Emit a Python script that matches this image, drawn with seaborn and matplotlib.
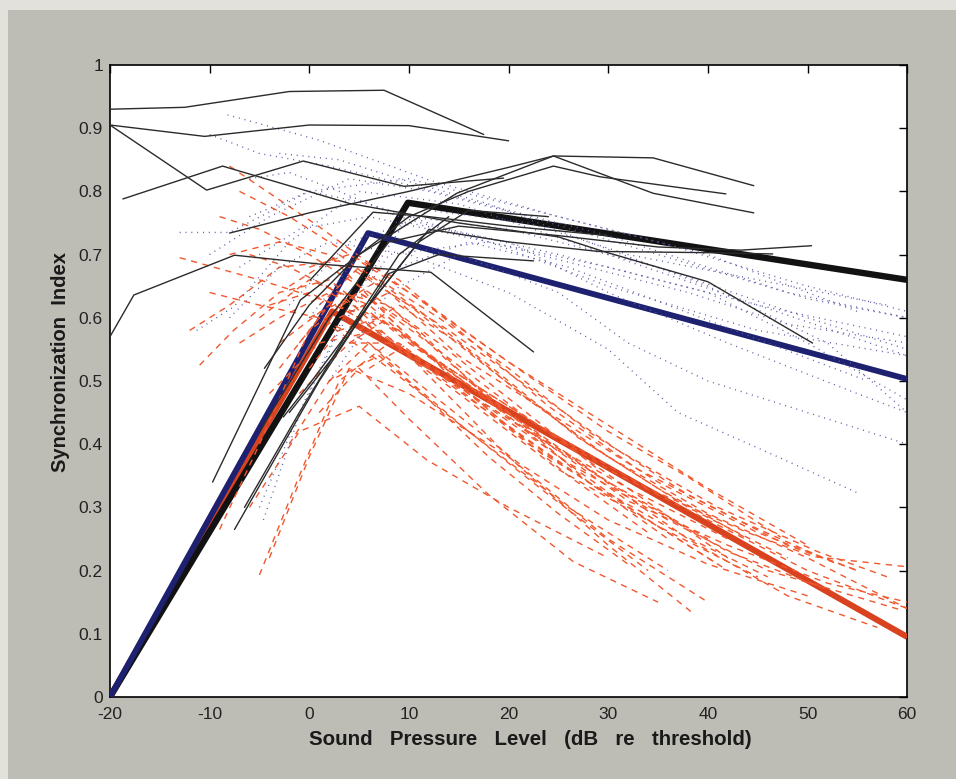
import matplotlib
matplotlib.use("Agg")
import matplotlib.pyplot as plt
from matplotlib.patches import Rectangle
import pandas as pd
import seaborn as sns

# ---- population fits (broken-stick) ----
black_fit_x = [-20, 9.9, 60]
black_fit_y = [0.0, 0.782, 0.660]
blue_fit_x = [-20, 5.9, 60]
blue_fit_y = [0.0, 0.734, 0.503]
red_fit_x = [-20, 2.3, 60]
red_fit_y = [0.0, 0.610, 0.095]

# ---- individual fibres: solid black group ----
blk_01 = ([-20, -12.5, -2, 7.5, 17.5], [0.930, 0.933, 0.958, 0.960, 0.890])
blk_02 = ([-20, -10.5, 0, 10, 20], [0.905, 0.887, 0.905, 0.904, 0.880])
blk_03 = ([-20, -10.3, -0.6, 9.5, 19.5], [0.905, 0.802, 0.848, 0.808, 0.821])
blk_04 = ([-18.7, -8.7, 4, 15, 25, 29.5, 40, 50.5], [0.788, 0.840, 0.781, 0.750, 0.728, 0.705, 0.657, 0.560])
blk_05 = ([-20, -17.6, -7.5, 1, 12.2, 22.5], [0.570, 0.636, 0.699, 0.685, 0.672, 0.546])
blk_06 = ([-8, 0, 10, 20, 24.5, 34.5, 44.6], [0.734, 0.766, 0.800, 0.838, 0.856, 0.853, 0.809])
blk_07 = ([-9.7, -0.9, 5, 14.8, 24.5, 34.5, 44.6], [0.340, 0.628, 0.700, 0.797, 0.856, 0.797, 0.766])
blk_08 = ([-7.5, 1, 6, 12, 20, 29, 40, 46.5], [0.265, 0.500, 0.620, 0.740, 0.720, 0.705, 0.703, 0.701])
blk_09 = ([-5, 2, 8, 15, 25, 35, 43.3, 50.4], [0.420, 0.600, 0.720, 0.745, 0.730, 0.712, 0.707, 0.714])
blk_10 = ([-4.5, 0, 5, 10, 16, 24.5, 29.2, 41.8], [0.520, 0.620, 0.700, 0.760, 0.800, 0.840, 0.823, 0.796])
blk_11 = ([-2, 3, 8, 13, 22.5], [0.450, 0.550, 0.670, 0.700, 0.690])
blk_12 = ([-2.6, 0.1, 5.8, 11, 16, 24], [0.443, 0.497, 0.617, 0.720, 0.770, 0.760])
blk_13 = ([0.1, 6.4, 12, 20, 30], [0.660, 0.767, 0.760, 0.745, 0.730])
blk_14 = ([-6.5, -1, 4, 9, 14], [0.300, 0.450, 0.580, 0.700, 0.760])

# ---- individual fibres: dotted blue group ----
blu_01 = ([-8.2, 1, 12, 25, 40, 55], [0.921, 0.881, 0.818, 0.760, 0.700, 0.610])
blu_02 = ([-13, -8, 0, 10, 20, 35, 50, 60], [0.735, 0.735, 0.800, 0.820, 0.780, 0.720, 0.650, 0.610])
blu_03 = ([-11.3, -7.6, -2, 5, 15, 30, 45, 60], [0.580, 0.617, 0.720, 0.800, 0.780, 0.700, 0.620, 0.570])
blu_04 = ([-5, -1, 4, 10, 20, 35, 50, 60], [0.300, 0.450, 0.620, 0.760, 0.740, 0.680, 0.600, 0.550])
blu_05 = ([-4.6, -0.9, 3, 8, 18, 30, 45, 60], [0.280, 0.450, 0.580, 0.700, 0.720, 0.650, 0.580, 0.540])
blu_06 = ([-8, -3, 2, 10, 20, 30, 37, 47, 55], [0.600, 0.680, 0.720, 0.700, 0.640, 0.550, 0.450, 0.380, 0.323])
blu_07 = ([-6, 0, 6, 14, 25, 40, 50, 60], [0.760, 0.800, 0.780, 0.740, 0.700, 0.640, 0.560, 0.470])
blu_08 = ([-3, 3, 9, 18, 28, 40, 52, 60], [0.860, 0.850, 0.820, 0.780, 0.720, 0.650, 0.560, 0.450])
blu_09 = ([-10, -4, 4, 12, 22, 35, 48, 60], [0.700, 0.760, 0.820, 0.800, 0.760, 0.700, 0.640, 0.600])
blu_10 = ([2, 8, 15, 25, 32, 40, 50, 60], [0.500, 0.640, 0.700, 0.640, 0.560, 0.500, 0.450, 0.400])
blu_11 = ([-2, 4, 10, 20, 30, 42, 55, 60], [0.620, 0.720, 0.750, 0.720, 0.640, 0.560, 0.480, 0.450])
blu_12 = ([0, 5, 12, 22, 32, 45, 58], [0.600, 0.700, 0.770, 0.750, 0.700, 0.660, 0.620])
blu_13 = ([-7, -1, 6, 15, 30, 45, 60], [0.680, 0.740, 0.760, 0.730, 0.680, 0.620, 0.540])
blu_14 = ([-10, -5, 2, 10, 20, 30, 40, 50, 60], [0.890, 0.860, 0.840, 0.810, 0.770, 0.730, 0.680, 0.630, 0.600])
blu_15 = ([4, 9, 16, 26, 36, 46, 56], [0.580, 0.680, 0.720, 0.680, 0.620, 0.560, 0.500])
blu_16 = ([-6, -2, 3, 9, 18, 28, 38, 48, 60], [0.820, 0.830, 0.800, 0.760, 0.720, 0.680, 0.640, 0.590, 0.560])

# ---- individual fibres: dashed red group ----
red_01 = ([-8, 1, 10, 20, 30, 38, 47.3], [0.840, 0.744, 0.640, 0.530, 0.420, 0.348, 0.253])
red_02 = ([-13, -5, 3, 12, 22, 32, 42], [0.695, 0.660, 0.620, 0.520, 0.420, 0.330, 0.250])
red_03 = ([-11, -7.6, -3, 2, 10, 20, 30, 40], [0.525, 0.580, 0.640, 0.660, 0.560, 0.450, 0.340, 0.250])
red_04 = ([-5, -1, 3, 8, 15, 25, 35, 45], [0.193, 0.350, 0.500, 0.560, 0.480, 0.360, 0.270, 0.190])
red_05 = ([-4, 0, 4, 10, 20, 30, 40], [0.220, 0.380, 0.520, 0.480, 0.380, 0.250, 0.150])
red_06 = ([-9, -5, 0, 5, 12, 22, 32, 42], [0.265, 0.400, 0.580, 0.640, 0.560, 0.440, 0.330, 0.220])
red_07 = ([-6, -2, 3, 10, 20, 30, 38.7], [0.700, 0.680, 0.640, 0.540, 0.380, 0.240, 0.130])
red_08 = ([-3, 2, 7, 14, 24, 34, 44, 50.6, 60], [0.560, 0.620, 0.600, 0.520, 0.420, 0.330, 0.260, 0.222, 0.206])
red_09 = ([-1, 4, 9, 16, 26, 36, 46, 59.3], [0.480, 0.560, 0.560, 0.480, 0.370, 0.280, 0.200, 0.138])
red_10 = ([0, 5, 11, 18, 28, 38, 48, 57], [0.600, 0.640, 0.580, 0.470, 0.360, 0.250, 0.160, 0.110])
red_11 = ([-7, -2, 4, 12, 20, 30, 40, 50], [0.800, 0.760, 0.700, 0.620, 0.530, 0.430, 0.330, 0.240])
red_12 = ([-10, -5, 1, 8, 16, 26, 36], [0.640, 0.620, 0.600, 0.520, 0.420, 0.300, 0.200])
red_13 = ([-5, 0, 6, 12, 22, 32, 42, 52], [0.600, 0.660, 0.620, 0.540, 0.420, 0.320, 0.230, 0.170])
red_14 = ([2, 6, 10, 16, 24, 34], [0.500, 0.560, 0.500, 0.420, 0.320, 0.200])
red_15 = ([-2, 3, 8, 15, 25, 35, 45, 55], [0.650, 0.700, 0.640, 0.540, 0.440, 0.340, 0.260, 0.200])
red_16 = ([4, 8, 12, 20, 30, 40, 50, 60], [0.560, 0.600, 0.540, 0.460, 0.360, 0.280, 0.200, 0.140])
red_17 = ([-8, -3, 2, 8, 16, 26, 34], [0.700, 0.720, 0.700, 0.600, 0.480, 0.350, 0.260])
red_18 = ([1, 5, 10, 18, 26.5, 35], [0.450, 0.520, 0.440, 0.320, 0.214, 0.150])
red_19 = ([-4, 1, 7, 14, 22, 32, 42], [0.480, 0.560, 0.580, 0.500, 0.400, 0.300, 0.200])
red_20 = ([3, 7, 13, 20, 28, 38, 48, 55], [0.620, 0.660, 0.600, 0.520, 0.420, 0.320, 0.240, 0.200])
red_21 = ([5, 9, 15, 22, 30, 40, 50, 60], [0.580, 0.620, 0.560, 0.470, 0.380, 0.290, 0.220, 0.140])
red_22 = ([-6, -1, 5, 11.8, 20, 30], [0.300, 0.420, 0.460, 0.375, 0.300, 0.220])
red_23 = ([-12, -8, -3, 3, 10, 18, 28, 38, 48], [0.580, 0.620, 0.680, 0.690, 0.620, 0.520, 0.400, 0.300, 0.220])
red_24 = ([0, 4, 9, 15, 24, 33, 43, 53], [0.680, 0.700, 0.660, 0.580, 0.460, 0.360, 0.280, 0.210])
red_25 = ([-3, 1, 6, 13, 21, 30, 40, 50], [0.520, 0.600, 0.560, 0.470, 0.370, 0.280, 0.210, 0.160])
red_26 = ([6, 10, 16, 24, 32, 42, 52, 60], [0.520, 0.560, 0.500, 0.400, 0.310, 0.240, 0.180, 0.150])
red_27 = ([-1, 3, 8, 14, 20, 28, 36], [0.560, 0.640, 0.620, 0.530, 0.450, 0.340, 0.250])
red_28 = ([-7, -3, 2, 9, 17, 25, 33, 41], [0.560, 0.600, 0.640, 0.580, 0.480, 0.380, 0.290, 0.210])
red_29 = ([1, 5, 12, 20, 27, 35, 44], [0.620, 0.680, 0.600, 0.500, 0.410, 0.330, 0.250])
red_30 = ([-2, 2, 7, 12, 18, 25, 32], [0.400, 0.500, 0.540, 0.470, 0.380, 0.290, 0.210])
red_31 = ([3, 8, 14, 22, 31, 41, 51, 58], [0.600, 0.640, 0.580, 0.490, 0.390, 0.300, 0.230, 0.190])
red_32 = ([-9, -5, 0, 6, 13, 21, 29], [0.760, 0.740, 0.700, 0.640, 0.560, 0.460, 0.360])
red_33 = ([0, 3, 7, 12, 19, 28, 37, 46], [0.520, 0.580, 0.600, 0.540, 0.440, 0.340, 0.260, 0.190])
red_34 = ([-4, 0, 5, 11, 18, 26], [0.620, 0.640, 0.600, 0.530, 0.450, 0.360])

black_units = [blk_01, blk_02, blk_03, blk_04, blk_05, blk_06, blk_07,
               blk_08, blk_09, blk_10, blk_11, blk_12, blk_13, blk_14]
blue_units = [blu_01, blu_02, blu_03, blu_04, blu_05, blu_06, blu_07, blu_08,
              blu_09, blu_10, blu_11, blu_12, blu_13, blu_14, blu_15, blu_16]
red_units = [red_01, red_02, red_03, red_04, red_05, red_06, red_07, red_08,
             red_09, red_10, red_11, red_12, red_13, red_14, red_15, red_16,
             red_17, red_18, red_19, red_20, red_21, red_22, red_23, red_24,
             red_25, red_26, red_27, red_28, red_29, red_30, red_31, red_32,
             red_33, red_34]

x_ticks = [-20, -10, 0, 10, 20, 30, 40, 50, 60]
y_ticks = [0, 0.1, 0.2, 0.3, 0.4, 0.5, 0.6, 0.7, 0.8, 0.9, 1]
y_tick_labels = ["0", "0.1", "0.2", "0.3", "0.4", "0.5", "0.6", "0.7", "0.8", "0.9", "1"]


def to_frame(units):
    rows = []
    for i, (xs, ys) in enumerate(units):
        for xv, yv in zip(xs, ys):
            rows.append({"unit": i, "x": xv, "y": yv})
    return pd.DataFrame(rows)


sns.set_theme(style="white")
plt.rcParams["font.family"] = ["Liberation Sans", "DejaVu Sans"]

paper = "#bebdb5"
fig = plt.figure(figsize=(9.56, 7.79), dpi=100, facecolor=paper)
# pale margin along the top and left edge of the page
fig.patches.append(Rectangle((0, 0.987), 1, 0.013, transform=fig.transFigure,
                             facecolor="#e2e1dc", edgecolor="none", zorder=-1))
fig.patches.append(Rectangle((0, 0), 0.008, 1, transform=fig.transFigure,
                             facecolor="#e2e1dc", edgecolor="none", zorder=-1))

ax = fig.add_axes([0.115, 0.1053, 0.834, 0.8113])
ax.set_facecolor("white")

# broken-stick population fits (red underneath, blue on top)
fits = [
    (red_fit_x, red_fit_y, "#d8421f", 4.4, 3.0),
    (black_fit_x, black_fit_y, "#121212", 4.6, 3.1),
    (blue_fit_x, blue_fit_y, "#1d2170", 4.2, 3.2),
]
for fx, fy, col, lw, z in fits:
    sns.lineplot(x=fx, y=fy, ax=ax, color=col, linewidth=lw, sort=False,
                 estimator=None, legend=False, solid_capstyle="butt", zorder=z)

# individual fibres
sns.lineplot(data=to_frame(red_units), x="x", y="y", units="unit", estimator=None,
             sort=False, ax=ax, color="#f0582e", linewidth=1.0,
             linestyle=(0, (4.5, 4)), legend=False, zorder=4)
sns.lineplot(data=to_frame(blue_units), x="x", y="y", units="unit", estimator=None,
             sort=False, ax=ax, color="#5a5aa6", linewidth=1.0,
             linestyle=(0, (0.7, 3.5)), legend=False, zorder=4)
sns.lineplot(data=to_frame(black_units), x="x", y="y", units="unit", estimator=None,
             sort=False, ax=ax, color="#2b2b2b", linewidth=1.0, legend=False, zorder=5)

ax.set_xlim(-20, 60)
ax.set_ylim(0, 1)
ax.set_xticks(x_ticks)
ax.set_xticklabels([str(t) for t in x_ticks])
ax.set_yticks(y_ticks)
ax.set_yticklabels(y_tick_labels)
ax.tick_params(axis="both", direction="in", length=6, width=1.0, colors="black",
               labelsize=12.5, top=True, right=True, labelcolor="#222222")
ax.tick_params(axis="x", pad=7)
ax.tick_params(axis="y", pad=5)
for side in ax.spines.values():
    side.set_visible(True)
    side.set_color("black")
    side.set_linewidth(1.2)

ax.set_xlabel("Sound   Pressure   Level   (dB   re   threshold)", fontsize=14.8,
              fontweight="bold", color="#1a1a1a")
ax.xaxis.set_label_coords(0.527, -0.052)
ax.set_ylabel("Synchronization  Index", fontsize=14.5, fontweight="bold",
              color="#1a1a1a")
ax.yaxis.set_label_coords(-0.05, 0.53)

fig.savefig("out.png", dpi=100, facecolor=fig.get_facecolor())
